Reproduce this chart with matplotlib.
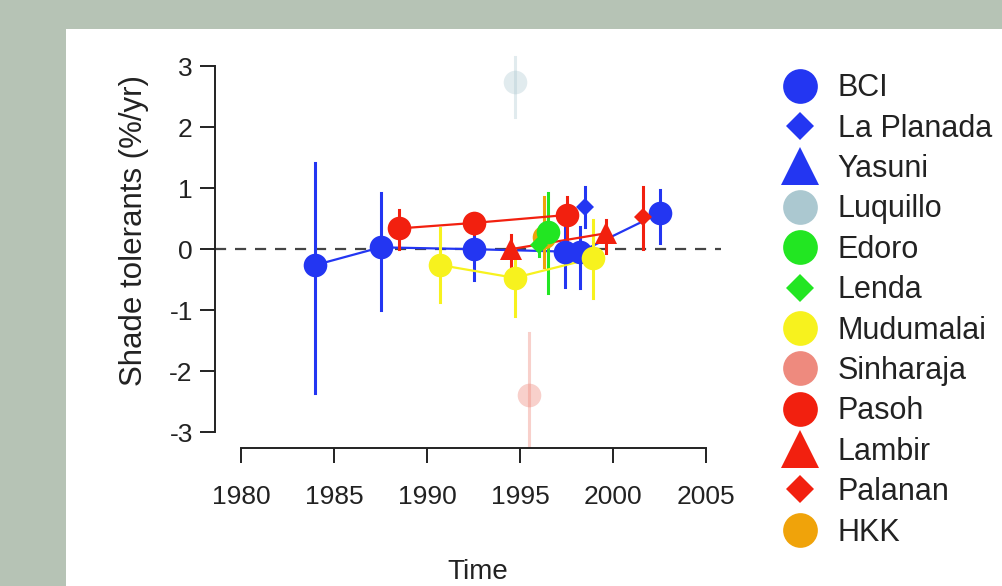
"""
Shade-tolerant growth rate change by plot and census interval.
"""
import matplotlib
matplotlib.use("Agg")
import matplotlib.pyplot as plt
from matplotlib.lines import Line2D
from matplotlib.patches import Rectangle

plt.rcParams['font.family'] = ['Liberation Sans', 'DejaVu Sans']

# site names, in legend order
sites = ['BCI', 'La Planada', 'Yasuni', 'Luquillo', 'Edoro', 'Lenda',
         'Mudumalai', 'Sinharaja', 'Pasoh', 'Lambir', 'Palanan', 'HKK']

# census mid-year, rate (%/yr), lower and upper limits, one set per site
bci_year = [1984.0, 1987.5, 1992.5, 1997.4, 1998.2, 2002.5]
bci_rate = [-0.26, 0.03, 0.0, -0.04, -0.05, 0.59]
bci_lo = [-2.36, -1.0, -0.5, -0.62, -0.64, 0.1]
bci_hi = [1.41, 0.92, 0.42, 0.43, 0.36, 0.97]

laplanada_year = [1998.5]
laplanada_rate = [0.69]
laplanada_lo = [0.36]
laplanada_hi = [1.02]

yasuni_year = []
yasuni_rate = []
yasuni_lo = []
yasuni_hi = []

luquillo_year = [1994.7]
luquillo_rate = [2.74]
luquillo_lo = [2.16]
luquillo_hi = [3.15]

edoro_year = [1996.5]
edoro_rate = [0.28]
edoro_lo = [-0.72]
edoro_hi = [0.92]

lenda_year = [1996.0]
lenda_rate = [0.07]
lenda_lo = [-0.12]
lenda_hi = [0.25]

mudumalai_year = [1990.7, 1994.7, 1998.9]
mudumalai_rate = [-0.26, -0.47, -0.15]
mudumalai_lo = [-0.87, -1.1, -0.8]
mudumalai_hi = [0.34, 0.0, 0.48]

sinharaja_year = [1995.5]
sinharaja_rate = [-2.39]
sinharaja_lo = [-3.5]
sinharaja_hi = [-1.38]

pasoh_year = [1988.5, 1992.5, 1997.5]
pasoh_rate = [0.34, 0.43, 0.56]
pasoh_lo = [0.0, 0.25, 0.1]
pasoh_hi = [0.64, 0.6, 0.85]

lambir_year = [1994.5, 1999.6]
lambir_rate = [0.0, 0.26]
lambir_lo = [-0.3, -0.07]
lambir_hi = [0.23, 0.48]

palanan_year = [2001.6]
palanan_rate = [0.52]
palanan_lo = [0.0]
palanan_hi = [1.02]

hkk_year = [1996.3]
hkk_rate = [0.2]
hkk_lo = [-0.3]
hkk_hi = [0.85]

x_ticks = [1980, 1985, 1990, 1995, 2000, 2005]
y_ticks = [-3, -2, -1, 0, 1, 2, 3]

BLUE = '#2336f2'
GREEN = '#22e622'
YELLOW = '#f7f21e'
RED = '#f2200f'
ORANGE = '#f0a30a'

# (year, rate, lo, hi, colour, marker, size in plot, size in legend, alpha)
series = [
    (bci_year, bci_rate, bci_lo, bci_hi, BLUE, 'o', 17, 25, 1.0),
    (laplanada_year, laplanada_rate, laplanada_lo, laplanada_hi, BLUE, 'D', 9, 14, 1.0),
    (yasuni_year, yasuni_rate, yasuni_lo, yasuni_hi, BLUE, '^', 17, 27, 1.0),
    (luquillo_year, luquillo_rate, luquillo_lo, luquillo_hi, '#abc8d0', 'o', 17, 25, 0.35),
    (hkk_year, hkk_rate, hkk_lo, hkk_hi, ORANGE, 'o', 17, 25, 1.0),
    (edoro_year, edoro_rate, edoro_lo, edoro_hi, GREEN, 'o', 17, 25, 1.0),
    (lenda_year, lenda_rate, lenda_lo, lenda_hi, GREEN, 'D', 9, 14, 1.0),
    (mudumalai_year, mudumalai_rate, mudumalai_lo, mudumalai_hi, YELLOW, 'o', 17, 25, 1.0),
    (sinharaja_year, sinharaja_rate, sinharaja_lo, sinharaja_hi, '#ee8a7e', 'o', 17, 25, 0.4),
    (pasoh_year, pasoh_rate, pasoh_lo, pasoh_hi, RED, 'o', 17, 25, 1.0),
    (lambir_year, lambir_rate, lambir_lo, lambir_hi, RED, '^', 16, 27, 1.0),
    (palanan_year, palanan_rate, palanan_lo, palanan_hi, RED, 'D', 9, 14, 1.0),
]
series_names = ['BCI', 'La Planada', 'Yasuni', 'Luquillo', 'HKK', 'Edoro',
                'Lenda', 'Mudumalai', 'Sinharaja', 'Pasoh', 'Lambir', 'Palanan']

W, H = 1003, 586
fig = plt.figure(figsize=(W / 100, H / 100), dpi=100)
fig.patch.set_facecolor('#b6c3b5')
fig.patches.append(Rectangle((66 / W, 0), 1 - 66 / W, 1 - 29 / H,
                             transform=fig.transFigure, facecolor='white',
                             edgecolor='none', zorder=-10))

ax = fig.add_axes([215 / W, 1 - 448 / H, 506 / W, 394 / H])
ax.set_facecolor('none')
ax.set_xlim(1978.6, 2005.8)
ax.set_ylim(-3.26, 3.2)

ax.axhline(0, color='#444444', lw=1.6, ls=(0, (5, 4)), zorder=1)

handles = {}
for (yr, rt, lo, hi, col, mk, ms, lms, a), name in zip(series, series_names):
    if len(yr) > 1:
        ax.plot(yr, rt, color=col, lw=1.6, alpha=a, zorder=2)
    for x, l, h in zip(yr, lo, hi):
        ax.plot([x, x], [l, h], color=col, lw=2.2, alpha=a, zorder=2)
    ax.plot(yr, rt, ls='none', marker=mk, ms=ms, color=col, mew=0,
            alpha=a, zorder=3)
    handles[name] = Line2D([], [], ls='none', marker=mk, ms=lms, color=col, mew=0)

for s in ['top', 'right']:
    ax.spines[s].set_visible(False)
ax.spines['left'].set_bounds(-3, 3)
ax.spines['bottom'].set_bounds(1980, 2005)
for s in ['left', 'bottom']:
    ax.spines[s].set_linewidth(1.4)
    ax.spines[s].set_color('#222222')
ax.set_xticks(x_ticks)
ax.set_yticks(y_ticks)
ax.set_yticklabels([str(v) for v in y_ticks])
ax.tick_params(axis='both', direction='out', length=11, width=1.4,
               colors='#222222', labelsize=19)
ax.tick_params(axis='x', pad=16)
ax.tick_params(axis='y', pad=5)

ax.set_ylabel('Shade tolerants (%/yr)', fontsize=22.5, color='#222222',
              va='center')
ax.yaxis.set_label_coords(-0.16, 0.553)
ax.set_xlabel('Time', fontsize=20, color='#222222', va='bottom')
ax.xaxis.set_label_coords(0.52, -0.348)

leg = fig.legend([handles[n] for n in sites], sites,
                 loc='upper left', bbox_to_anchor=(769 / W, 1 - 58 / H),
                 frameon=False, fontsize=22, handlelength=1.0,
                 handletextpad=0.75, labelspacing=0.34, borderpad=0)
for t in leg.get_texts():
    t.set_color('#222222')

fig.savefig('out.png', dpi=100, facecolor=fig.get_facecolor())
